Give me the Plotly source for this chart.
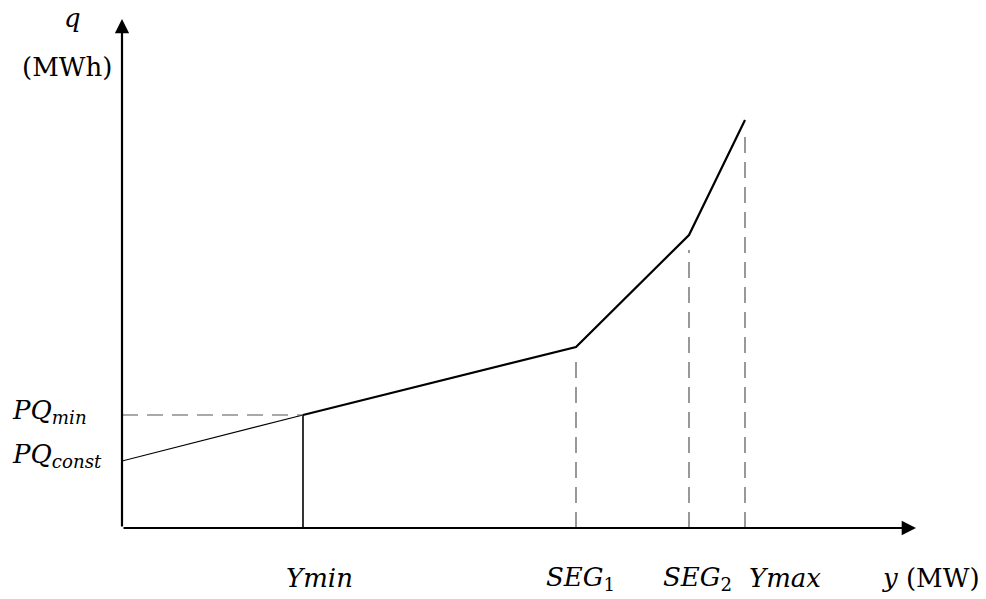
import plotly.graph_objects as go

# Data (units: y in MW-like units, q in MWh-like units)
y_labels = ["Ymin", "SEG1", "SEG2", "Ymax"]
y_points = [0, 181, 454, 567, 623]        # 0, Ymin, SEG1, SEG2, Ymax
q_points = [67, 113, 181, 293, 408]       # PQconst, PQmin, ...
pq_const = 67
pq_min = 113
x_max = 794
q_max = 509

fig = go.Figure()

fig.add_trace(go.Scatter(x=y_points[:2], y=q_points[:2], mode="lines",
                         line=dict(color="black", width=1.2), hoverinfo="skip"))
fig.add_trace(go.Scatter(x=y_points[1:], y=q_points[1:], mode="lines",
                         line=dict(color="black", width=2.2), hoverinfo="skip"))
fig.add_trace(go.Scatter(x=[y_points[1], y_points[1]], y=[0, q_points[1]], mode="lines",
                         line=dict(color="black", width=1.6), hoverinfo="skip"))
fig.add_trace(go.Scatter(x=[0, y_points[1]], y=[pq_min, pq_min], mode="lines",
                         line=dict(color="#555555", width=1.2, dash="16px,9px"), hoverinfo="skip"))
for xv, qv in zip(y_points[2:], q_points[2:]):
    fig.add_trace(go.Scatter(x=[xv, xv], y=[0, qv - 15], mode="lines",
                             line=dict(color="#555555", width=1.2, dash="16px,9px"),
                             hoverinfo="skip"))

font = dict(family="DejaVu Serif, Liberation Serif, serif", size=26, color="black")
ann = []
ann.append(dict(x=x_max, y=0, ax=0, ay=0, xref="x", yref="y", axref="x", ayref="y",
                showarrow=True, arrowhead=2, arrowsize=1.3, arrowwidth=2.2, arrowcolor="black", text=""))
ann.append(dict(x=0, y=q_max, ax=0, ay=0, xref="x", yref="y", axref="x", ayref="y",
                showarrow=True, arrowhead=2, arrowsize=1.3, arrowwidth=2.2, arrowcolor="black", text=""))

# x-axis labels, centred with a pixel offset from their point
xtexts = ["<i>Ymin</i>", "<i>SEG</i><sub>1</sub>", "<i>SEG</i><sub>2</sub>", "<i>Ymax</i>"]
xshifts = [16, 4, 8, 40]
for xv, t, s in zip(y_points[1:], xtexts, xshifts):
    ann.append(dict(x=xv, y=0, xref="x", yref="y", text=t, showarrow=False,
                    xshift=s, yshift=-50, font=font, xanchor="center", yanchor="middle"))
ann.append(dict(x=1.0, y=0, xref="paper", yref="y", text="<i>y</i> (MW)", showarrow=False,
                xshift=15, yshift=-50, font=font, xanchor="center", yanchor="middle"))
# y-axis labels
ann.append(dict(x=0, y=pq_min, xref="x", yref="y", text="<i>PQ</i><sub><i>min</i></sub>",
                showarrow=False, xshift=-112, yshift=4, font=font, xanchor="left", yanchor="middle"))
ann.append(dict(x=0, y=pq_const, xref="x", yref="y", text="<i>PQ</i><sub><i>const</i></sub>",
                showarrow=False, xshift=-112, yshift=6, font=font, xanchor="left", yanchor="middle"))
ann.append(dict(x=0, y=q_max, xref="x", yref="y", text="<i>q</i>", showarrow=False,
                xshift=-50, yshift=18, font=font, xanchor="center", yanchor="top"))
ann.append(dict(x=0, y=q_max, xref="x", yref="y", text="(MWh)", showarrow=False,
                xshift=-55, yshift=-48, font=font, xanchor="center", yanchor="middle"))

fig.update_layout(
    width=986, height=599,
    margin=dict(l=122, r=70, t=19, b=71),
    paper_bgcolor="white", plot_bgcolor="white",
    showlegend=False,
    xaxis=dict(range=[0, x_max], visible=False, fixedrange=True),
    yaxis=dict(range=[0, q_max], visible=False, fixedrange=True),
    annotations=ann,
)

fig.write_html("out.html")
